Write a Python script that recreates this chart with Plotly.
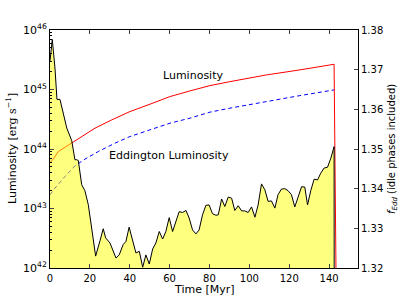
import plotly.graph_objects as go

# Yellow filled curve (right axis, f_Edd)
t_fedd = [0, 1.15, 2.5, 3.5, 5.0, 6.7, 8.4, 10.9, 12.5, 13.4, 14.2, 15.9, 17.5, 19.2, 20.9, 22.9,
          25.1, 26.7, 27.9, 30.1, 33.1, 34.7, 36.7, 38.1, 39.7, 41.5, 43.1, 44.8, 46.5, 48.1,
          49.8, 51.5, 53.1, 54.8, 56.5, 58.1, 59.8, 61.5, 63.2, 64.8, 66.5, 68.2, 69.8, 71.5,
          73.2, 74.8, 76.5, 78.2, 79.8, 81.5, 83.2, 84.4, 86.1, 87.7, 89.4, 91.1, 92.7, 94.4,
          96.1, 97.7, 99.4, 101.1, 102.8, 104.4, 106.1, 107.8, 109.4, 111.1, 112.8, 114.4,
          116.1, 117.8, 119.4, 121.1, 122.8, 124.5, 126.2, 127.8, 129.2, 130.8, 132.5, 134.2,
          135.8, 137.5, 139.2, 140.9, 142.5, 142.6]
f_edd = [1.3722, 1.3776, 1.3704, 1.3625, 1.3625, 1.3587, 1.3553, 1.3521, 1.3473, 1.3473, 1.3471,
         1.3410, 1.3395, 1.3360, 1.3294, 1.3230, 1.3269, 1.3299, 1.3276, 1.3263, 1.3225, 1.3233,
         1.3259, 1.3267, 1.3303, 1.3271, 1.3238, 1.3242, 1.3202, 1.3233, 1.3210, 1.3248, 1.3263,
         1.3292, 1.3273, 1.3292, 1.3327, 1.3292, 1.3320, 1.3342, 1.3340, 1.3345, 1.3326, 1.3296,
         1.3286, 1.3296, 1.3334, 1.3358, 1.3359, 1.3337, 1.3333, 1.3334, 1.3374, 1.3355, 1.3379,
         1.3376, 1.3345, 1.3357, 1.3344, 1.3344, 1.3340, 1.3354, 1.3328, 1.3359, 1.3412, 1.3397,
         1.3368, 1.3369, 1.3351, 1.3385, 1.3399, 1.3400, 1.3395, 1.3385, 1.3354, 1.3380, 1.3405,
         1.3404, 1.3359, 1.3395, 1.3424, 1.3422, 1.3439, 1.3452, 1.3454, 1.3477, 1.3506, 1.30]

# Luminosity (red), log10 erg/s
t_lum = [0, 1.65, 4.16, 7.52, 11.68, 15.89, 22.56, 30.93, 40.10, 50.13, 60.15, 70.18, 80.20,
         90.23, 100.25, 108.6, 125.3, 142.5, 144.0]
log_lum = [43.773, 43.830, 43.957, 44.031, 44.125, 44.209, 44.350, 44.489, 44.629, 44.753,
           44.881, 44.976, 45.065, 45.132, 45.199, 45.245, 45.329, 45.424, 40.0]

# Eddington luminosity (blue dashed), log10 erg/s
t_edd = [0, 2.51, 7.52, 12.53, 17.54, 24.21, 32.58, 40.10, 50.13, 60.15, 70.18, 80.20, 90.23,
         100.25, 108.6, 125.3, 142.5]
log_edd = [43.231, 43.343, 43.538, 43.717, 43.830, 43.957, 44.098, 44.209, 44.322, 44.434,
           44.518, 44.619, 44.686, 44.753, 44.797, 44.897, 44.993]

x_ticks = [0, 20, 40, 60, 80, 100, 120, 140]
y_exps = [42, 43, 44, 45, 46]
y2_ticks = [1.32, 1.33, 1.34, 1.35, 1.36, 1.37, 1.38]

FONT = "DejaVu Sans"

fig = go.Figure()
fig.add_trace(go.Scatter(x=t_lum, y=[10.0 ** v for v in log_lum], mode="lines",
                         line=dict(color="red", width=1), yaxis="y", showlegend=False))
fig.add_trace(go.Scatter(x=t_edd, y=[10.0 ** v for v in log_edd], mode="lines",
                         line=dict(color="blue", width=1, dash="4px,3px"), yaxis="y",
                         showlegend=False))
fig.add_trace(go.Scatter(x=t_fedd, y=f_edd, mode="lines", fill="tozeroy",
                         fillcolor="rgba(255,255,0,0.5)", line=dict(color="black", width=1),
                         yaxis="y2", showlegend=False))

minor_vals = [float(m) * 10.0 ** e for e in y_exps[:-1] for m in range(2, 10)]

fig.update_layout(
    width=399, height=299,
    margin=dict(l=50, r=41, t=30, b=31, autoexpand=False),
    paper_bgcolor="white", plot_bgcolor="white",
    font=dict(family=FONT, size=10, color="black"),
    xaxis=dict(range=[0, 154.5], tickvals=x_ticks, ticks="inside", ticklen=4,
               showline=True, linecolor="black", linewidth=1, mirror="ticks",
               showgrid=False, zeroline=False, automargin=False, ticklabelstandoff=1,
               tickfont=dict(size=10)),
    yaxis=dict(type="log", range=[42, 46], tickvals=[10.0 ** e for e in y_exps],
               ticktext=["10<sup>%d</sup>" % e for e in y_exps],
               ticks="inside", ticklen=4, showline=True, linecolor="black", linewidth=1,
               minor=dict(ticks="inside", ticklen=2, tickvals=minor_vals, tickcolor="black"),
               showgrid=False, zeroline=False, automargin=False, tickfont=dict(size=11)),
    yaxis2=dict(overlaying="y", side="right", range=[1.32, 1.38], tickvals=y2_ticks,
                tickformat=".2f", ticks="inside", ticklen=4, showline=True,
                linecolor="black", linewidth=1, showgrid=False, zeroline=False,
                automargin=False, tickfont=dict(size=10)),
    annotations=[
        dict(x=71.8, y=45.233, xref="x", yref="y", text="Luminosity", showarrow=False,
             font=dict(size=11, color="black")),
        dict(x=59.9, y=43.885, xref="x", yref="y", text="Eddington Luminosity",
             showarrow=False, font=dict(size=11, color="black")),
        dict(x=0.5, y=0, xref="paper", yref="paper", yshift=-21, yanchor="middle",
             text="Time [Myr]", showarrow=False, font=dict(size=11, color="black")),
        dict(x=0, y=0.5, xref="paper", yref="paper", xshift=-39, xanchor="center",
             yanchor="middle", textangle=-90, showarrow=False,
             text="Luminosity <span style=\"font-family:'DejaVu Serif'\">[erg s<sup>\u22121</sup>]</span>",
             font=dict(size=11, color="black")),
        dict(x=1, y=0.5, xref="paper", yref="paper", xshift=34, xanchor="center",
             yanchor="middle", textangle=-90, showarrow=False,
             text="<i>f</i><sub><i>Edd</i></sub> (idle phases included)",
             font=dict(size=10, color="black")),
    ],
)

fig.write_html("out.html", config={"displayModeBar": False},
               post_script="document.body.style.margin='0';")
